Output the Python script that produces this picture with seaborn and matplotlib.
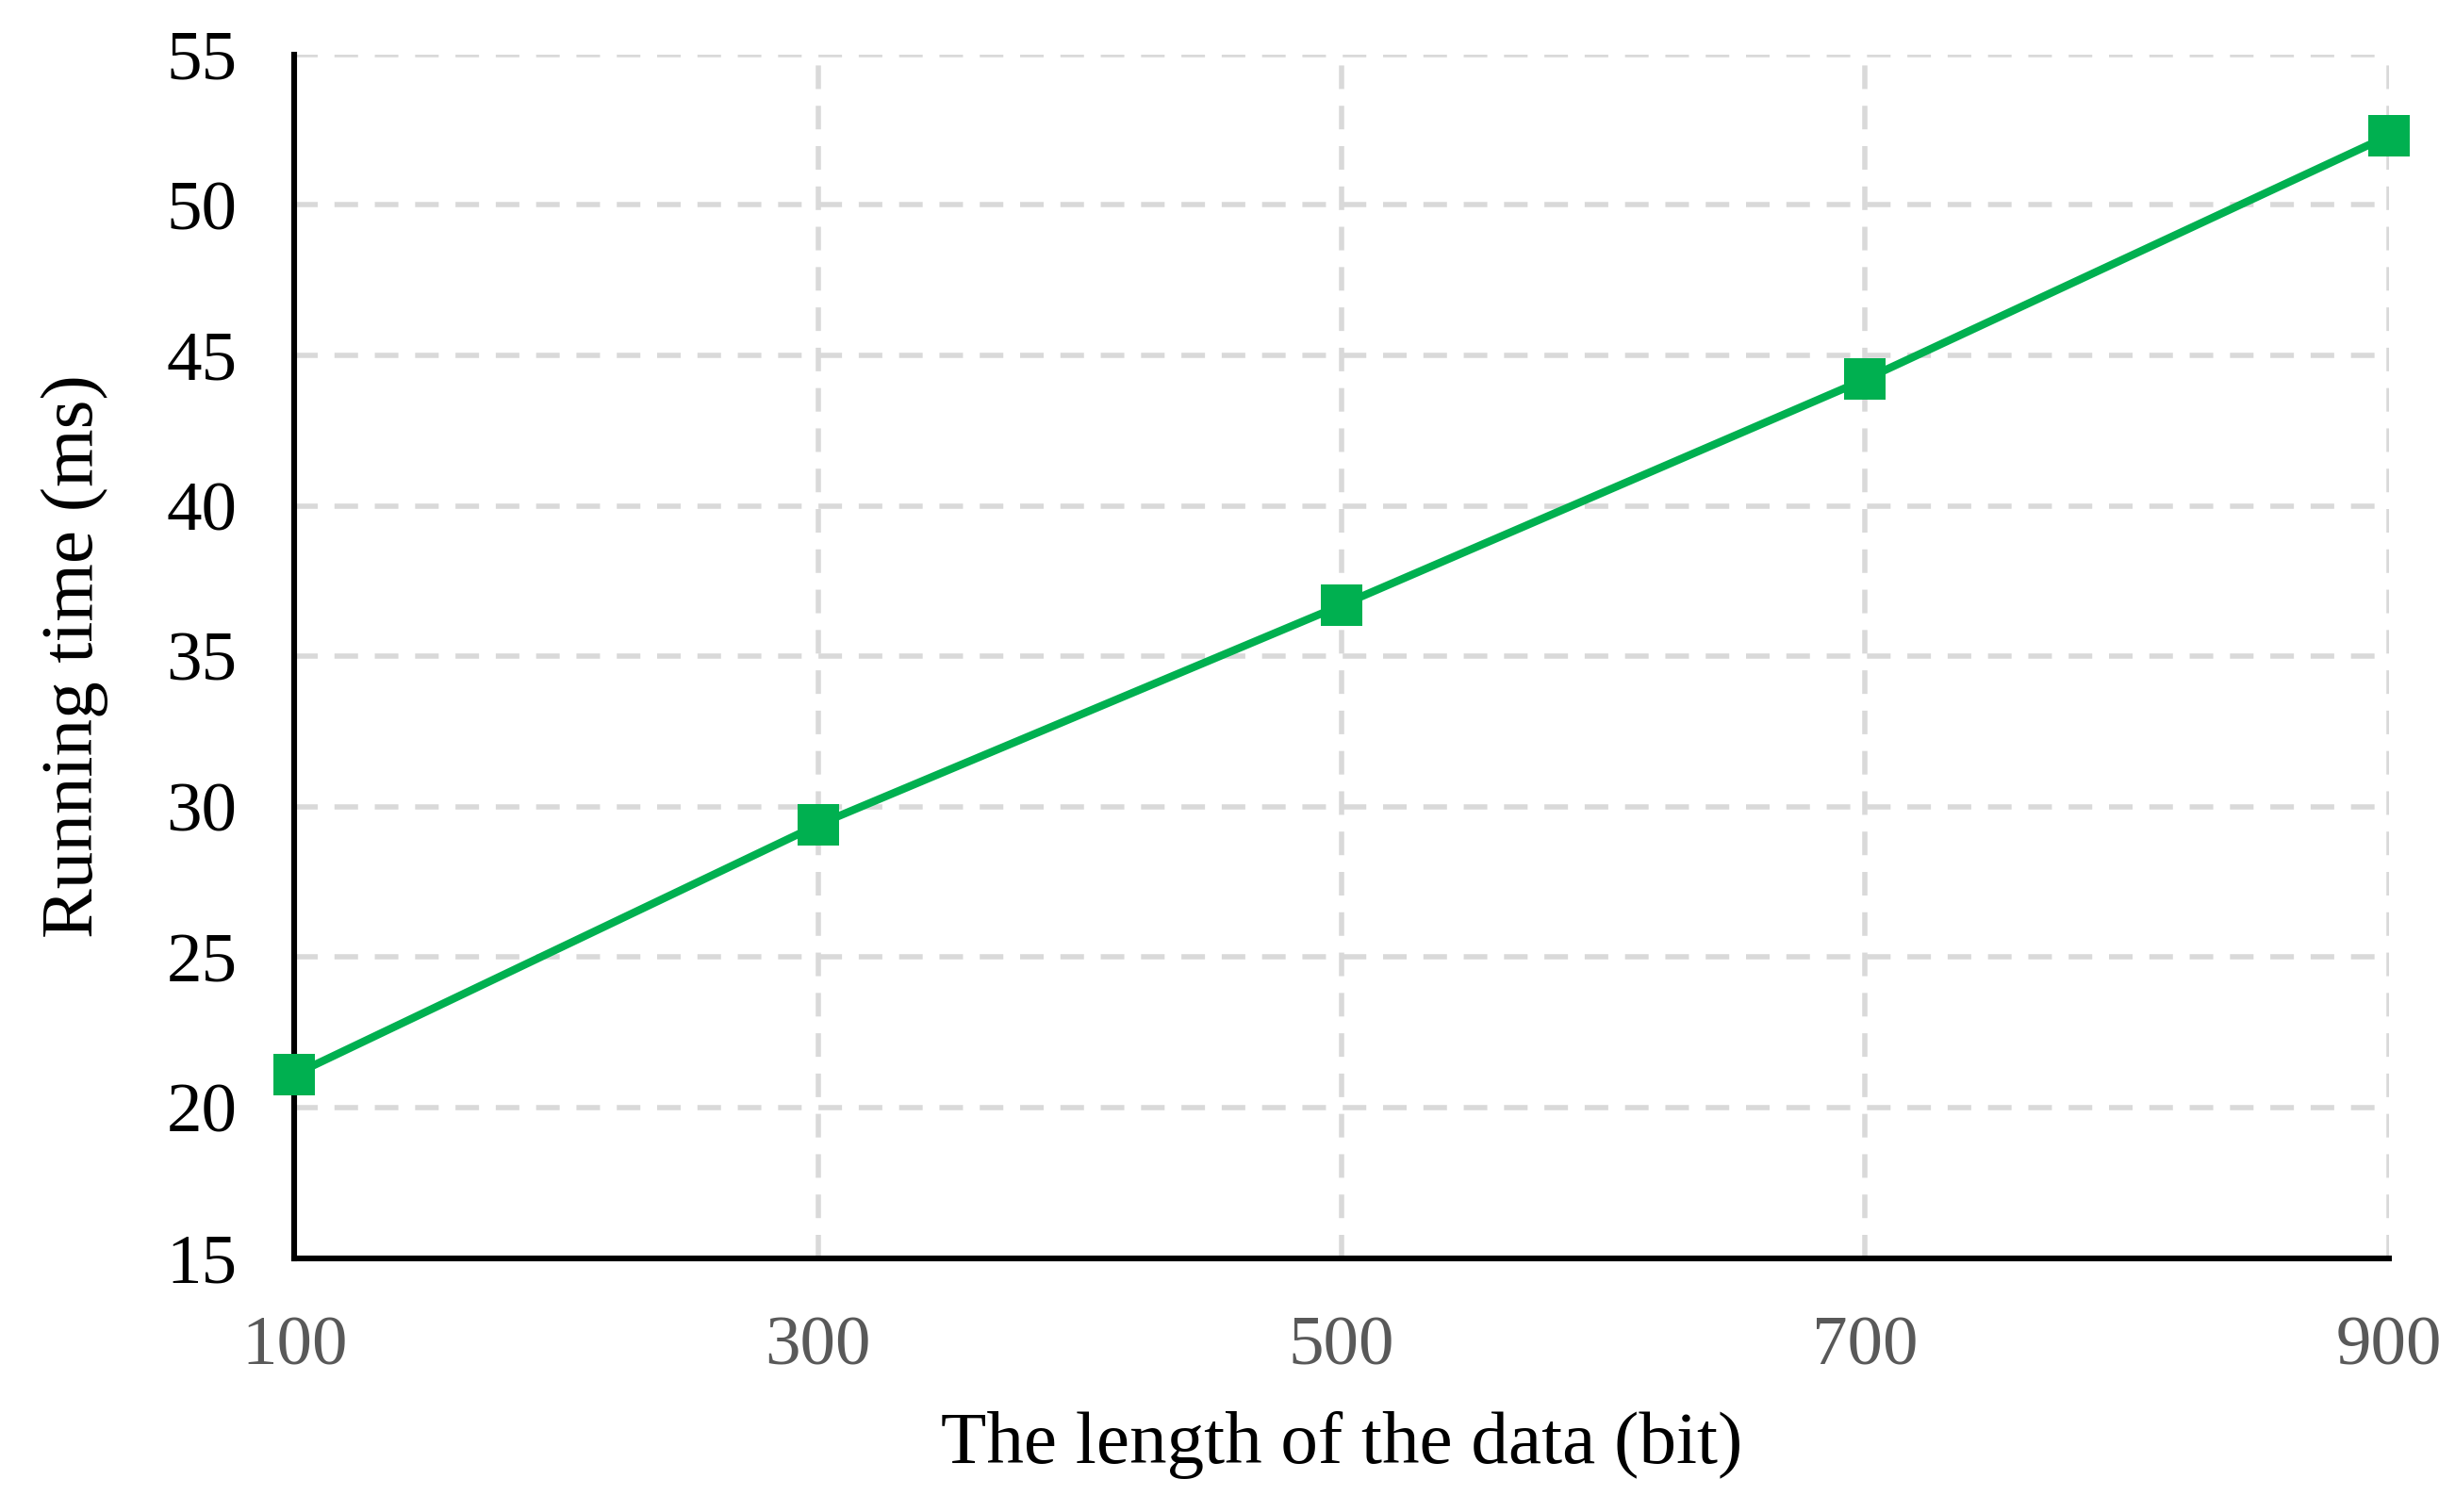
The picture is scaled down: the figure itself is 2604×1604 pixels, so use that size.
import numpy as np
import pandas as pd
import seaborn as sns
import matplotlib.pyplot as plt

# data
lengths = [100, 300, 500, 700, 900]
times = [21.1, 29.4, 36.7, 44.2, 52.3]

df = pd.DataFrame({'length': lengths, 'time': times})

sns.set_style('white')
plt.rcParams['font.family'] = ['Liberation Serif', 'DejaVu Serif']

fig, ax = plt.subplots(figsize=(13.02, 8.02), dpi=200)
fig.subplots_adjust(left=0.120, right=0.973, top=0.964, bottom=0.168)

sns.lineplot(data=df, x='length', y='time', ax=ax,
             color='#00B050', linewidth=3,
             marker='s', markersize=16, markeredgewidth=0,
             zorder=3, clip_on=False)

ax.set_xlim(100, 900)
ax.set_ylim(15, 55)
ax.set_xticks(lengths)
ax.set_yticks(np.arange(15, 56, 5))

# dashed light gray grid
ax.grid(True, color='#D9D9D9', linestyle=(0, (4.5, 3.2)), linewidth=2.0)
ax.set_axisbelow(True)

for s in ['top', 'right']:
    ax.spines[s].set_visible(False)
for s in ['left', 'bottom']:
    ax.spines[s].set_color('black')
    ax.spines[s].set_linewidth(2.2)

ax.tick_params(axis='both', direction='in', length=7, width=2.2, color='black')
ax.tick_params(axis='y', labelsize=27, labelcolor='black', pad=22)
ax.tick_params(axis='x', labelsize=27, labelcolor='#595959', pad=22)

ax.set_xlabel('The length of the data (bit)', fontsize=28.5, color='black', labelpad=12)
ax.set_ylabel('Running time (ms)', fontsize=28.5, color='black', labelpad=22)

fig.savefig('out.png', dpi=200)
